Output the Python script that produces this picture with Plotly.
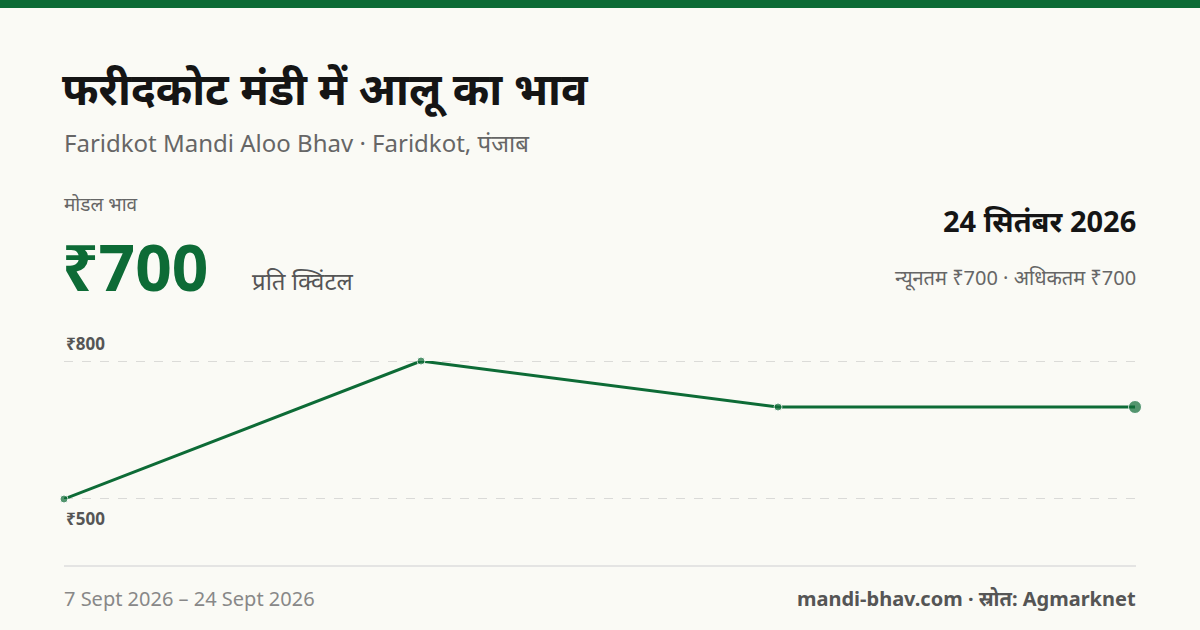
import plotly.graph_objects as go

dates = ["7 Sept 2026", "13 Sept 2026", "19 Sept 2026", "24 Sept 2026"]
prices = [500, 800, 700, 700]
tick_vals = [500, 800]
tick_labels = ["₹500", "₹800"]

GREEN = "#0d6b36"
BG = "#fafaf5"
F = "Noto Sans"
W, H = 1200, 630
L, R, T, B = 64, 65, 361, 131
PW, PH = W - L - R, H - T - B

def px(x): return (x - L) / PW
def py(y): return (H - B - y) / PH

fig = go.Figure()
x = list(range(len(prices)))
fig.add_trace(go.Scatter(x=x, y=prices, mode="lines+markers",
    line=dict(color=GREEN, width=3),
    marker=dict(color=GREEN, size=[8, 8, 8, 13]), cliponaxis=False, hoverinfo="skip"))

for v in tick_vals:
    fig.add_shape(type="line", xref="paper", yref="y", x0=0, x1=1, y0=v, y1=v,
                  line=dict(color="#bbbbbb", width=1, dash="dash"), layer="below")
fig.add_annotation(xref="paper", yref="y", x=0, y=tick_vals[1], text="<b>"+tick_labels[1]+"</b>",
                   showarrow=False, xanchor="left", yanchor="bottom", yshift=4,
                   font=dict(family=F, size=17, color="#555"))
fig.add_annotation(xref="paper", yref="y", x=0, y=tick_vals[0], text="<b>"+tick_labels[0]+"</b>",
                   showarrow=False, xanchor="left", yanchor="top", yshift=-6,
                   font=dict(family=F, size=17, color="#555"))

def txt(x, y, s, size, color, anchor="left", bold=False):
    fig.add_annotation(xref="paper", yref="paper", x=px(x), y=py(y),
        text=("<b>%s</b>" % s) if bold else s, showarrow=False, xanchor=anchor, yanchor="middle",
        xshift=-2 if anchor == "left" else 2,
        font=dict(family=F, size=size, color=color))

txt(62, 88, "फरीदकोट मंडी में आलू का भाव", 44, "#151515", bold=True)
txt(64, 142, "Faridkot Mandi Aloo Bhav · Faridkot, पंजाब", 24, "#666")
txt(64, 204, "मोडल भाव", 19, "#666")
txt(62, 266, "₹700", 64, GREEN, bold=True)
txt(252, 280, "प्रति क्विंटल", 24, "#555")
txt(1136, 220, "24 सितंबर 2026", 29, "#151515", anchor="right", bold=True)
txt(1136, 277, "न्यूनतम ₹700 · अधिकतम ₹700", 20, "#666", anchor="right")
txt(64, 598, dates[0] + " – " + dates[-1], 20, "#888")
txt(1136, 598, "mandi-bhav.com · स्रोत: Agmarknet", 20, "#555", anchor="right", bold=True)

fig.add_shape(type="rect", xref="paper", yref="paper", x0=px(0), x1=px(W), y0=py(8), y1=py(0),
              fillcolor=GREEN, line_width=0)
fig.add_shape(type="line", xref="paper", yref="paper", x0=px(64), x1=px(1136), y0=py(566), y1=py(566),
              line=dict(color="#dddddd", width=1.5))

fig.update_layout(width=W, height=H, paper_bgcolor=BG, plot_bgcolor=BG, showlegend=False,
    margin=dict(l=L, r=R, t=T, b=B),
    xaxis=dict(range=[0, 3], visible=False, fixedrange=True),
    yaxis=dict(range=[500, 800], visible=False, fixedrange=True))
fig.write_html("out.html", config={"displayModeBar": False})
with open("out.html", encoding="utf-8") as f:
    html = f.read()
html = html.replace("<body>", '<body style="margin:0;background:%s">' % BG, 1)
with open("out.html", "w", encoding="utf-8") as f:
    f.write(html)
